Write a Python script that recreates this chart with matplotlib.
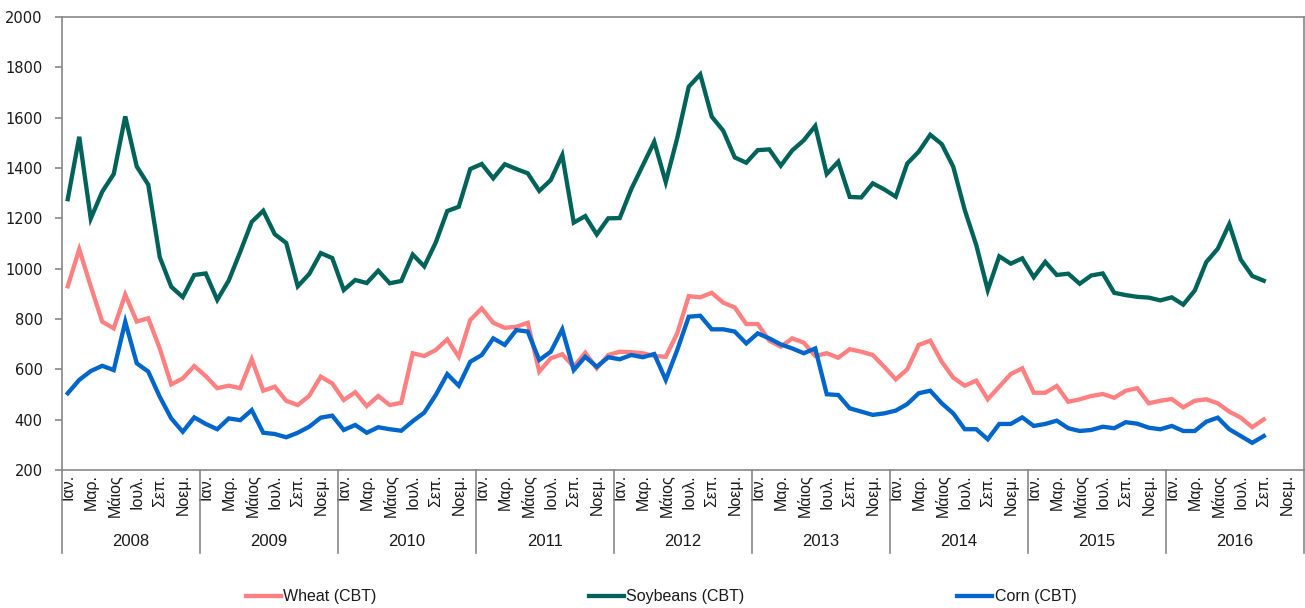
import numpy as np
import matplotlib
matplotlib.use("Agg")
import matplotlib.pyplot as plt
import matplotlib.transforms as mtransforms

years = [2008, 2009, 2010, 2011, 2012, 2013, 2014, 2015, 2016]
month_labels = ["Ιαν.", "Μαρ.", "Μάιος", "Ιουλ.", "Σεπ.", "Νοεμ."]

wheat = [
    930, 1077, 930, 789, 763, 897, 790, 803, 683, 540, 564, 613,
    573, 525, 535, 525, 640, 515, 531, 475, 458, 495, 571, 544,
    478, 509, 454, 494, 458, 467, 664, 653, 677, 719, 650, 796,
    842, 785, 765, 769, 785, 591, 644, 660, 610, 666, 604, 657,
    670, 668, 664, 653, 650, 743, 891, 886, 904, 865, 846, 780,
    780, 714, 690, 723, 706, 653, 664, 646, 680, 670, 657, 610,
    560, 600, 697, 714, 630, 567, 535, 555, 481, 531, 581, 604,
    507, 507, 534, 471, 481, 494, 502, 487, 515, 525, 465, 475,
    482, 449, 475, 481, 465, 432, 408, 370, 401,
]
soybeans = [
    1276, 1524, 1199, 1306, 1376, 1605, 1406, 1334, 1046, 928, 887, 975,
    981, 876, 953, 1067, 1186, 1230, 1137, 1102, 930, 979, 1062, 1042,
    915, 955, 943, 992, 942, 951, 1056, 1009, 1104, 1229, 1246, 1396,
    1416, 1359, 1415, 1396, 1379, 1309, 1352, 1451, 1183, 1209, 1136, 1200,
    1201, 1316, 1410, 1504, 1344, 1519, 1723, 1772, 1604, 1548, 1442, 1421,
    1471, 1474, 1409, 1470, 1510, 1567, 1376, 1425, 1285, 1283, 1339, 1315,
    1286, 1418, 1465, 1532, 1495, 1405, 1233, 1094, 915, 1049, 1020, 1041,
    966, 1027, 975, 980, 940, 973, 981, 904, 895, 888, 885, 874,
    886, 857, 913, 1026, 1079, 1177, 1036, 971, 952,
]
corn = [
    505, 558, 593, 614, 597, 789, 624, 591, 491, 405, 352, 409,
    383, 362, 405, 398, 438, 348, 343, 330, 348, 372, 408, 416,
    359, 379, 348, 370, 362, 356, 394, 428, 498, 581, 535, 630,
    657, 723, 697, 756, 750, 637, 670, 759, 597, 650, 610, 648,
    640, 657, 648, 661, 558, 677, 809, 813, 759, 759, 750, 703,
    743, 723, 699, 683, 664, 683, 501, 498, 445, 432, 419, 425,
    436, 462, 505, 515, 465, 425, 362, 362, 322, 383, 383, 409,
    375, 383, 396, 366, 355, 359, 372, 366, 390, 384, 368, 362,
    375, 355, 355, 392, 408, 362, 335, 308, 335,
]

series_names = ["Wheat (CBT)", "Soybeans (CBT)", "Corn (CBT)"]
colors = ["#FF8080", "#00635A", "#0066CC"]

W, H = 1305, 608
fig = plt.figure(figsize=(W / 100, H / 100), dpi=100)
ax = fig.add_axes([62 / W, 1 - 470 / H, (1304 - 62) / W, (470 - 17) / H])

n_months = 12 * len(years)
x = np.arange(len(wheat)) + 0.5
for vals, c, name in zip([wheat, soybeans, corn], colors, series_names):
    ax.plot(x, vals, color=c, lw=3.1, solid_joinstyle="miter", label=name)

ax.set_xlim(0, n_months)
ax.set_ylim(200, 2000)
ax.set_yticks(np.arange(200, 2001, 200))

spine_c = "#888888"
for s in ax.spines.values():
    s.set_color(spine_c)
    s.set_linewidth(1.2)

ax.tick_params(axis="y", direction="out", length=5, width=1.2, color=spine_c,
               pad=9, labelsize=10.5, labelcolor="#1a1a1a")

xt = []
xl = []
for yi, yr in enumerate(years):
    for mi, ml in enumerate(month_labels):
        xt.append(yi * 12 + mi * 2 + 0.5)
        xl.append(ml)
ax.set_xticks(xt)
ax.set_xticklabels(xl, rotation=90, fontsize=11.5, family=["Liberation Sans", "DejaVu Sans"],
                   color="#1a1a1a", va="top", ha="center")
ax.tick_params(axis="x", length=0, pad=3)

trans = mtransforms.blended_transform_factory(ax.transData, ax.transAxes)
sep_bottom = -(553 - 470) / 453
for yi in range(len(years) + 1):
    ax.plot([yi * 12, yi * 12], [0, sep_bottom], transform=trans, color=spine_c,
            lw=1.2, clip_on=False)
for yi, yr in enumerate(years):
    ax.text(yi * 12 + 6, -(542 - 470) / 453, str(yr), transform=trans,
            ha="center", va="center", fontsize=12,
            family=["Liberation Sans", "DejaVu Sans"], color="#1a1a1a")

leg = fig.legend(loc="center", bbox_to_anchor=(661 / W, 1 - 597 / H), ncol=3,
                 frameon=False, handlelength=2.2, handletextpad=0.15,
                 columnspacing=13.3,
                 prop={"family": ["Liberation Sans", "DejaVu Sans"], "size": 11.5})
for t in leg.get_texts():
    t.set_color("#1a1a1a")

fig.savefig("out.png", dpi=100)
